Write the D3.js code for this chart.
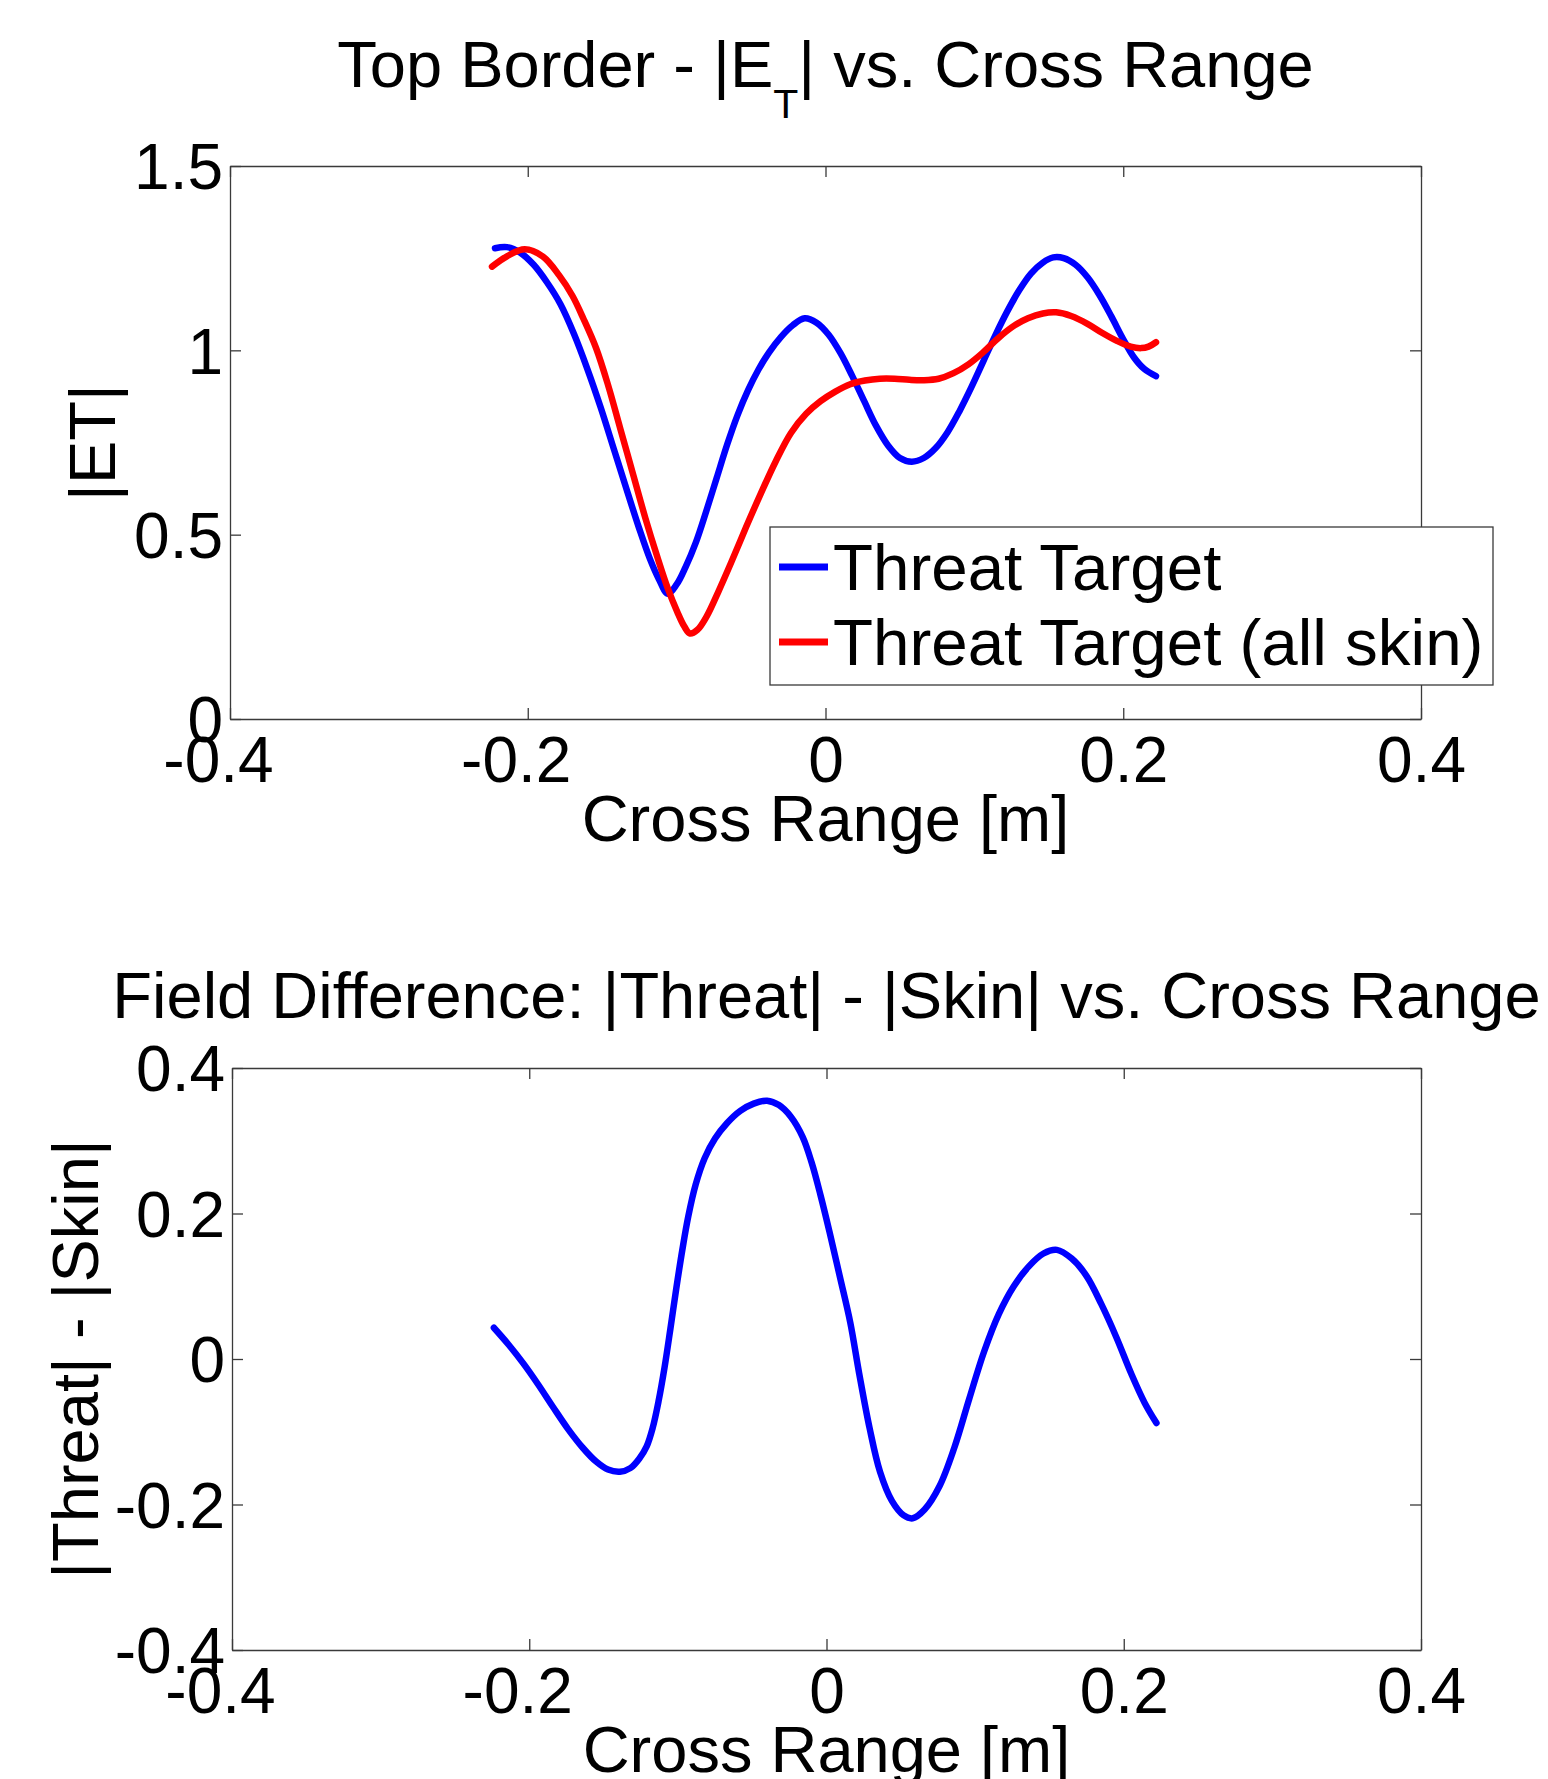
<!DOCTYPE html>
<html>
<head>
<meta charset="utf-8">
<script src="https://cdn.jsdelivr.net/npm/d3@7"></script>
<style>
  html, body { margin: 0; padding: 0; background: #fff; }
  svg { display: block; }
  text { font-family: "Liberation Sans", Arial, Helvetica, sans-serif; fill: #000; }
</style>
</head>
<body>
<svg id="chart" width="1548" height="1779"></svg>
<script>
// ---- data -------------------------------------------------------------
const xTicks = [-0.4, -0.2, 0, 0.2, 0.4];
const xTickLabels = ["-0.4", "-0.2", "0", "0.2", "0.4"];
const topYTicks = [0, 0.5, 1, 1.5];
const topYTickLabels = ["0", "0.5", "1", "1.5"];
const bottomYTicks = [-0.4, -0.2, 0, 0.2, 0.4];
const bottomYTickLabels = ["-0.4", "-0.2", "0", "0.2", "0.4"];

const seriesNames = ["Threat Target", "Threat Target (all skin)"];
const seriesColors = ["#0000ff", "#ff0000"];

// |E_T| along the top border, threat target
const threatX = [-0.222, -0.214, -0.205, -0.196, -0.187, -0.178, -0.169, -0.160, -0.151, -0.142,
                 -0.133, -0.125, -0.118, -0.112, -0.106, -0.100, -0.094, -0.087, -0.080, -0.073,
                 -0.066, -0.059, -0.052, -0.045, -0.038, -0.030, -0.022, -0.014, -0.006, 0.002,
                 0.010, 0.018, 0.026, 0.034, 0.042, 0.050, 0.058, 0.066, 0.074, 0.082,
                 0.090, 0.098, 0.106, 0.114, 0.122, 0.130, 0.138, 0.146, 0.153, 0.160,
                 0.168, 0.176, 0.184, 0.192, 0.200, 0.207, 0.214, 0.222];
const threatY = [1.277, 1.280, 1.265, 1.232, 1.184, 1.125, 1.045, 0.950, 0.845, 0.730,
                 0.615, 0.515, 0.435, 0.380, 0.340, 0.365, 0.412, 0.480, 0.565, 0.655,
                 0.745, 0.825, 0.892, 0.948, 0.994, 1.036, 1.068, 1.087, 1.075, 1.043,
                 0.993, 0.930, 0.862, 0.795, 0.742, 0.708, 0.698, 0.708, 0.735, 0.778,
                 0.835, 0.900, 0.970, 1.040, 1.105, 1.162, 1.208, 1.238, 1.252, 1.250,
                 1.232, 1.198, 1.150, 1.092, 1.030, 0.982, 0.950, 0.930];

// |E_T| along the top border, all-skin target
const skinX = [-0.224, -0.214, -0.202, -0.190, -0.179, -0.170, -0.1625, -0.154, -0.146, -0.138,
               -0.129, -0.121, -0.113, -0.106, -0.0995, -0.095, -0.091, -0.086, -0.080, -0.072,
               -0.0633, -0.0534, -0.0434, -0.0333, -0.0232, -0.013, -0.0033, 0.0066, 0.0166, 0.0265,
               0.0365, 0.0464, 0.0564, 0.066, 0.076, 0.086, 0.096, 0.106, 0.116, 0.126,
               0.136, 0.146, 0.155, 0.165, 0.176, 0.186, 0.196, 0.205, 0.212, 0.217,
               0.222];
const skinY = [1.227, 1.255, 1.274, 1.255, 1.204, 1.148, 1.085, 1.005, 0.905, 0.790,
               0.660, 0.545, 0.440, 0.355, 0.290, 0.252, 0.232, 0.242, 0.277, 0.345,
               0.425, 0.520, 0.612, 0.700, 0.776, 0.828, 0.862, 0.888, 0.908, 0.918,
               0.923, 0.923, 0.920, 0.919, 0.923, 0.938, 0.962, 0.995, 1.033, 1.065,
               1.087, 1.100, 1.103, 1.093, 1.072, 1.047, 1.025, 1.010, 1.006, 1.010,
               1.022];

// |Threat| - |Skin|
const diffX = [-0.2238, -0.214, -0.204, -0.194, -0.184, -0.174, -0.164, -0.155, -0.147, -0.139,
               -0.132, -0.126, -0.121, -0.117, -0.113, -0.109, -0.105, -0.101, -0.097, -0.093,
               -0.088, -0.082, -0.075, -0.067, -0.058, -0.049, -0.040, -0.032, -0.024, -0.016,
               -0.010, -0.004, 0.002, 0.009, 0.016, 0.022, 0.029, 0.036, 0.044, 0.052,
               0.058, 0.066, 0.076, 0.086, 0.096, 0.106, 0.116, 0.126, 0.136, 0.146,
               0.155, 0.165, 0.175, 0.185, 0.195, 0.205, 0.214, 0.222];
const diffY = [0.043, 0.020, -0.006, -0.035, -0.066, -0.096, -0.122, -0.141, -0.152, -0.155,
               -0.150, -0.137, -0.120, -0.095, -0.058, -0.012, 0.042, 0.098, 0.150, 0.196,
               0.240, 0.276, 0.303, 0.324, 0.341, 0.351, 0.355, 0.349, 0.333, 0.305,
               0.270, 0.225, 0.175, 0.113, 0.050, -0.020, -0.095, -0.155, -0.195, -0.215,
               -0.219, -0.207, -0.175, -0.122, -0.055, 0.010, 0.062, 0.100, 0.127, 0.145,
               0.150, 0.138, 0.114, 0.075, 0.030, -0.020, -0.060, -0.088];

// ---- layout ------------------------------------------------------------
const svg = d3.select("#chart");
const TICK_FONT = 64;
const LABEL_FONT = 65;
const TICK = 11;
const AXIS_COLOR = "#3a3a3a";
const LINE_W = 6.5;

function zip(xs, ys) { return xs.map((x, i) => ({ x, y: ys[i] })); }

function drawPanel(cfg) {
  const { left, right, top, bottom, yDomain, yTicks, yLabels } = cfg;
  const x = d3.scaleLinear().domain([-0.4, 0.4]).range([left, right]);
  const y = d3.scaleLinear().domain(yDomain).range([bottom, top]);
  const g = svg.append("g");

  g.append("rect").attr("x", left).attr("y", top)
    .attr("width", right - left).attr("height", bottom - top).attr("fill", "#fff");

  // inward ticks on all four sides of the box
  const fmtX = (d) => xTickLabels[xTicks.indexOf(d)];
  const fmtY = (d) => yLabels[yTicks.indexOf(d)];

  const bx = g.append("g").attr("transform", `translate(0,${bottom})`)
    .call(d3.axisBottom(x).tickValues(xTicks).tickFormat(fmtX).tickSizeInner(-TICK).tickSizeOuter(0));
  const tx = g.append("g").attr("transform", `translate(0,${top})`)
    .call(d3.axisTop(x).tickValues(xTicks).tickFormat("").tickSizeInner(-TICK).tickSizeOuter(0));
  const ly = g.append("g").attr("transform", `translate(${left},0)`)
    .call(d3.axisLeft(y).tickValues(yTicks).tickFormat(fmtY).tickSizeInner(-TICK).tickSizeOuter(0));
  const ry = g.append("g").attr("transform", `translate(${right},0)`)
    .call(d3.axisRight(y).tickValues(yTicks).tickFormat("").tickSizeInner(-TICK).tickSizeOuter(0));

  [bx, tx, ly, ry].forEach(a => {
    a.select(".domain").attr("stroke", AXIS_COLOR).attr("stroke-width", 1.3);
    a.selectAll(".tick line").attr("stroke", AXIS_COLOR).attr("stroke-width", 1.3);
    a.selectAll("text").attr("font-size", TICK_FONT)
      .attr("font-family", "'Liberation Sans', Arial, sans-serif").attr("fill", "#000");
  });
  bx.selectAll(".tick text")
    .attr("y", cfg.xLabelBaseline - bottom).attr("dy", null)
    .attr("x", (d) => (d < 0 ? -12 : 0));
  ly.selectAll(".tick text")
    .attr("x", -7).attr("dy", null).attr("y", TICK_FONT * 0.358);

  return { g, x, y };
}

function drawLine(panel, xs, ys, color) {
  const line = d3.line().x(d => panel.x(d.x)).y(d => panel.y(d.y))
    .curve(d3.curveCatmullRom.alpha(0.5));
  panel.g.append("path").datum(zip(xs, ys))
    .attr("d", line).attr("fill", "none").attr("stroke", color)
    .attr("stroke-width", LINE_W).attr("stroke-linejoin", "round").attr("stroke-linecap", "round");
}

// ---- top panel ---------------------------------------------------------
const p1 = drawPanel({
  left: 230, right: 1421, top: 166, bottom: 719,
  yDomain: [0, 1.5], yTicks: topYTicks, yLabels: topYTickLabels,
  xLabelBaseline: 782
});
drawLine(p1, threatX, threatY, seriesColors[0]);
drawLine(p1, skinX, skinY, seriesColors[1]);

// title with subscript T
const t1 = svg.append("text").attr("x", (230 + 1421) / 2).attr("y", 87)
  .attr("text-anchor", "middle").attr("font-size", LABEL_FONT);
t1.append("tspan").text("Top Border - |E");
t1.append("tspan").attr("font-size", 41).attr("dy", 31).text("T");
t1.append("tspan").attr("dy", -31).text("| vs. Cross Range");

svg.append("text").attr("x", (230 + 1421) / 2).attr("y", 841)
  .attr("text-anchor", "middle").attr("font-size", LABEL_FONT).text("Cross Range [m]");
svg.append("text").attr("transform", `translate(115,${(166 + 719) / 2}) rotate(-90)`)
  .attr("text-anchor", "middle").attr("font-size", LABEL_FONT).text("|ET|");

// legend
const lg = svg.append("g");
lg.append("rect").attr("x", 770).attr("y", 527).attr("width", 723).attr("height", 158)
  .attr("fill", "#fff").attr("stroke", AXIS_COLOR).attr("stroke-width", 1.3);
const legendRows = [567, 642];
seriesNames.forEach((name, i) => {
  lg.append("line").attr("x1", 779).attr("x2", 828)
    .attr("y1", legendRows[i]).attr("y2", legendRows[i])
    .attr("stroke", seriesColors[i]).attr("stroke-width", LINE_W + 0.5);
  lg.append("text").attr("x", 833).attr("y", legendRows[i] + 23)
    .attr("font-size", 65.5).text(name);
});

// ---- bottom panel ------------------------------------------------------
const p2 = drawPanel({
  left: 232, right: 1421, top: 1068, bottom: 1650,
  yDomain: [-0.4, 0.4], yTicks: bottomYTicks, yLabels: bottomYTickLabels,
  xLabelBaseline: 1713
});
drawLine(p2, diffX, diffY, seriesColors[0]);

svg.append("text").attr("x", (232 + 1421) / 2).attr("y", 1018)
  .attr("text-anchor", "middle").attr("font-size", LABEL_FONT)
  .text("Field Difference: |Threat| - |Skin| vs. Cross Range");
svg.append("text").attr("x", (232 + 1421) / 2).attr("y", 1772)
  .attr("text-anchor", "middle").attr("font-size", LABEL_FONT).text("Cross Range [m]");
svg.append("text").attr("transform", `translate(98,${(1068 + 1650) / 2}) rotate(-90)`)
  .attr("text-anchor", "middle").attr("font-size", LABEL_FONT).text("|Threat| - |Skin|");
</script>
</body>
</html>
